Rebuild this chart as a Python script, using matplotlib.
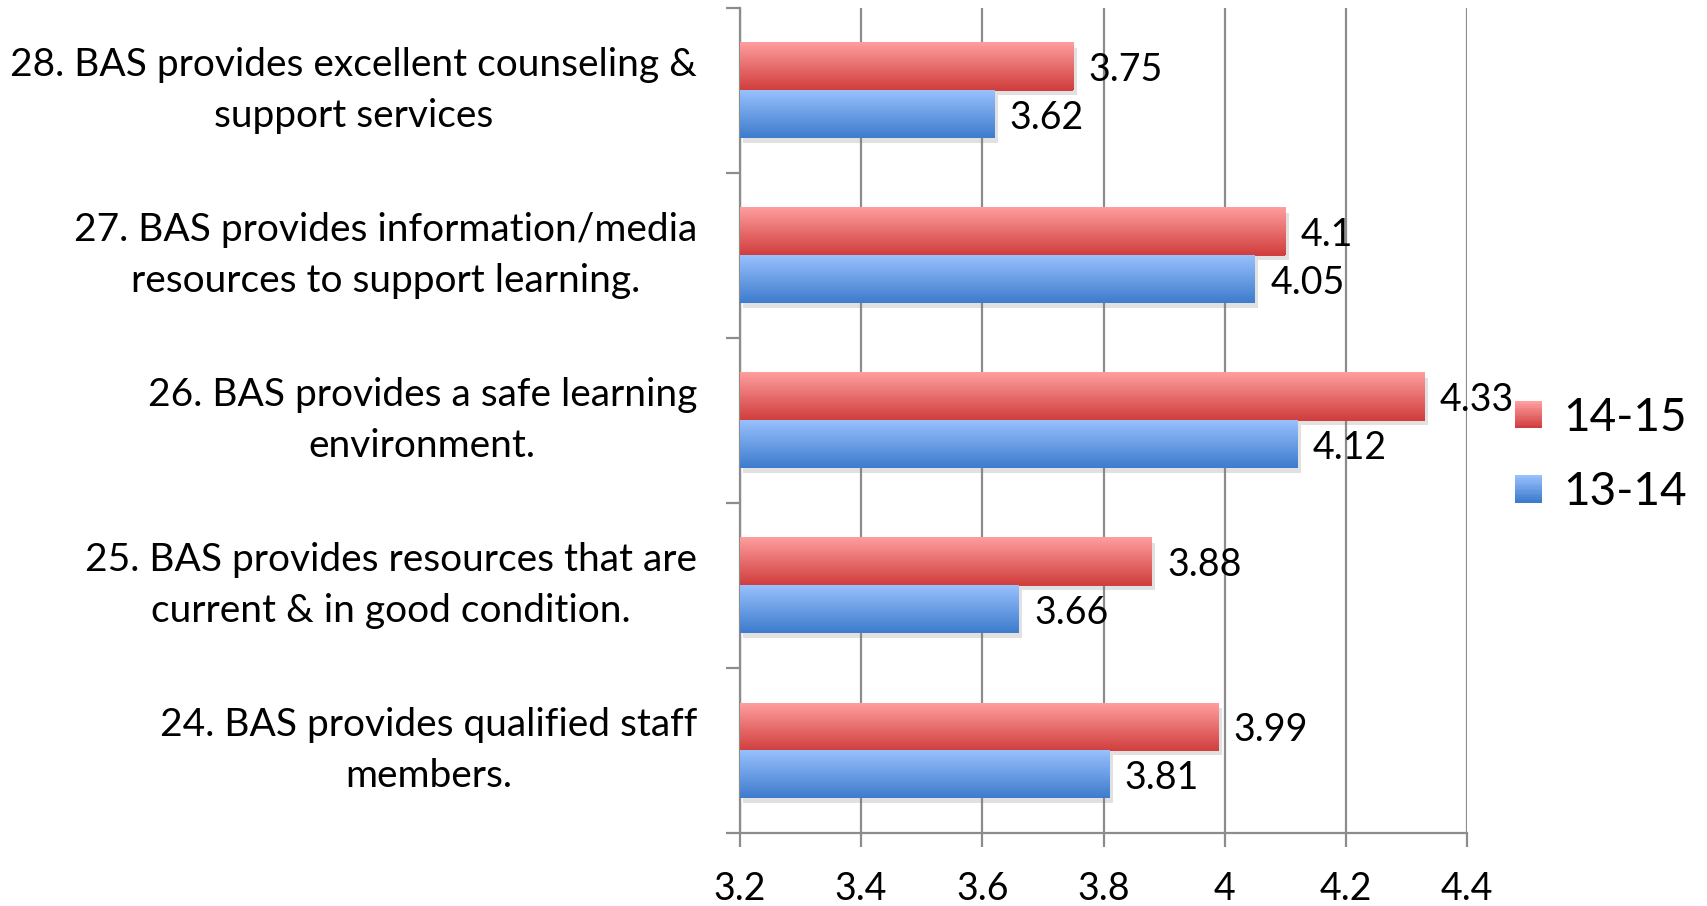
import numpy as np
import matplotlib
matplotlib.use("Agg")
import matplotlib.pyplot as plt
from matplotlib.patches import Rectangle
from matplotlib.legend_handler import HandlerBase
import matplotlib.patheffects as pe

plt.rcParams['font.family'] = ['Lato', 'DejaVu Sans']

categories = [
    "24. BAS provides qualified staff\nmembers.",
    "25. BAS provides resources that are\ncurrent & in good condition.",
    "26. BAS provides a safe learning\nenvironment.",
    "27. BAS provides information/media\nresources to support learning.",
    "28. BAS provides excellent counseling &\nsupport services",
]
series_names = ["14-15", "13-14"]
values_1415 = [3.99, 3.88, 4.33, 4.10, 3.75]
values_1314 = [3.81, 3.66, 4.12, 4.05, 3.62]
xticks = [3.2, 3.4, 3.6, 3.8, 4.0, 4.2, 4.4]
xtick_labels = ["3.2", "3.4", "3.6", "3.8", "4", "4.2", "4.4"]

red_top, red_bot = np.array([255, 158, 158]) / 255, np.array([208, 62, 62]) / 255
blue_top, blue_bot = np.array([152, 192, 252]) / 255, np.array([62, 124, 206]) / 255

fig = plt.figure(figsize=(17.07, 9.06), dpi=100)
ax = fig.add_axes([740 / 1707, 1 - 833 / 906, (1467 - 740) / 1707, (833 - 8) / 906])

y = np.arange(len(categories))
h = 0.288
shadow = [pe.SimplePatchShadow(offset=(2.5, -3.5), shadow_rgbFace='#777777', alpha=0.22), pe.Normal()]
bars_r = ax.barh(y + h / 2, np.array(values_1415) - 3.2, left=3.2, height=h, color=red_bot, zorder=2)
bars_b = ax.barh(y - h / 2, np.array(values_1314) - 3.2, left=3.2, height=h, color=blue_bot, zorder=2)


def grad_img(top, bot, n=64):
    t = np.linspace(0, 1, n)[:, None]
    return (top[None, :] * (1 - t) + bot[None, :] * t)[:, None, :]


for bars, top, bot in [(bars_r, red_top, red_bot), (bars_b, blue_top, blue_bot)]:
    for b in bars:
        b.set_path_effects(shadow)
        x0, y0, w, hh = b.get_x(), b.get_y(), b.get_width(), b.get_height()
        ax.imshow(grad_img(top, bot), extent=[x0, x0 + w, y0, y0 + hh], origin='upper',
                  aspect='auto', zorder=3, interpolation='bilinear')

for bars, vals in [(bars_r, values_1415), (bars_b, values_1314)]:
    txts = ax.bar_label(bars, labels=[f"{v:g}" for v in vals], padding=11, fontsize=27, zorder=5)
    for t in txts:
        t.set_va('center_baseline')

ax.set_xlim(3.2, 4.4)
ax.set_ylim(-0.5, len(categories) - 0.5)
ax.set_xticks(xticks)
ax.set_xticklabels(xtick_labels, fontsize=27)
ax.set_yticks(np.arange(len(categories) + 1) - 0.5)
ax.set_yticklabels([])
ax.set_yticks(y, minor=True)
ax.set_yticklabels(categories, minor=True, fontsize=28, multialignment='center',
                   linespacing=1.5, va='center')

gc = '#8c8c8c'
ax.grid(axis='x', color=gc, linewidth=1.6, zorder=0.5)
ax.set_axisbelow(True)
for s in ['top', 'right']:
    ax.spines[s].set_visible(False)
for s in ['left', 'bottom']:
    ax.spines[s].set_color(gc)
    ax.spines[s].set_linewidth(1.6)
ax.tick_params(axis='both', which='major', color=gc, width=1.6, length=10)
ax.tick_params(axis='x', which='major', pad=17)
ax.tick_params(axis='y', which='minor', length=0, pad=31)


class GradHandler(HandlerBase):
    def __init__(self, top, bot):
        super().__init__()
        self.top, self.bot = top, bot

    def create_artists(self, legend, orig_handle, xdescent, ydescent, width, height, fontsize, trans):
        s = 19.5
        n = 16
        x0 = -xdescent + (width - s) / 2
        y0 = -ydescent + (height - s) / 2
        arts = []
        for i in range(n):
            t = i / (n - 1)
            c = self.top * (1 - t) + self.bot * t
            arts.append(Rectangle((x0, y0 + s - (i + 1) * s / n), s, s / n + 0.3, facecolor=c,
                                  edgecolor='none', transform=trans))
        return arts


leg = fig.legend([bars_r, bars_b], series_names,
                 handler_map={bars_r: GradHandler(red_top, red_bot), bars_b: GradHandler(blue_top, blue_bot)},
                 loc='center left', bbox_to_anchor=(1512 / 1707, 1 - 455 / 906), frameon=False,
                 borderpad=0, borderaxespad=0,
                 fontsize=33, handlelength=0.7, handleheight=0.7, handletextpad=0.42, labelspacing=0.7)

fig.savefig("out.png", dpi=100)
